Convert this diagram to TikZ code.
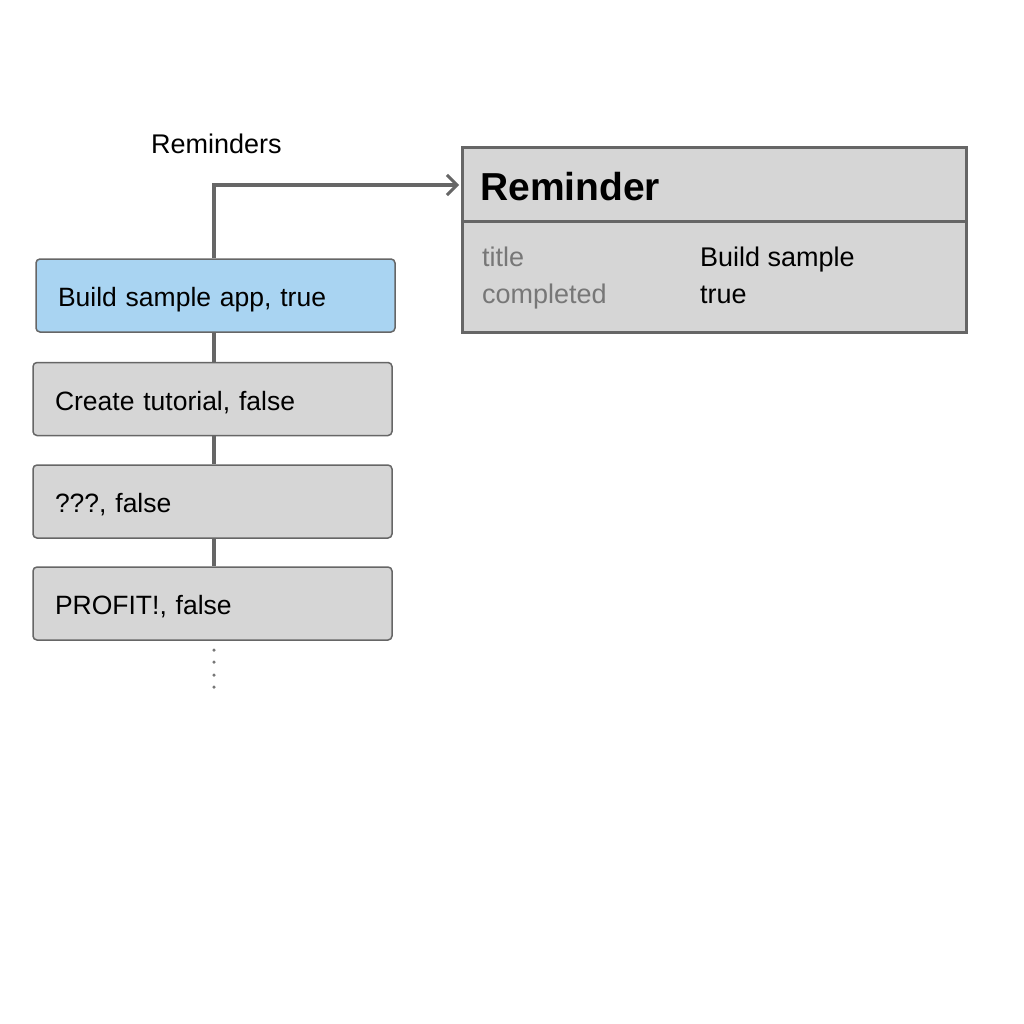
\documentclass[tikz,border=0pt]{standalone}
\usepackage{fontspec}
\setmainfont{Liberation Sans}
\usetikzlibrary{arrows.meta}
\definecolor{boxfill}{HTML}{D6D6D6}
\definecolor{boxline}{HTML}{666666}
\definecolor{bluefill}{HTML}{A9D4F2}
\definecolor{keygray}{HTML}{777777}
\tikzset{
  item/.style={draw=boxline, line width=1.5pt, fill=boxfill, rounded corners=4pt,
    minimum width=359pt, minimum height=73pt, text width=315pt, align=left,
    inner xsep=22pt, inner ysep=0pt, text height=22pt, text depth=0pt,
    font=\fontsize{26.5}{32}\selectfont},
  conn/.style={draw=boxline, line width=3.5pt},
  lbl/.style={anchor=base west, inner sep=0pt, font=\fontsize{27}{32}\selectfont},
  keytxt/.style={lbl, text=keygray},
  dot/.style={circle, fill=keygray, inner sep=0pt, minimum size=3.5pt}
}
\begin{document}
\begin{tikzpicture}[x=1pt,y=-1pt]
\useasboundingbox[fill=white] (0,0) rectangle (1024,1024);
% list boxes
\node[item, fill=bluefill] (b1) at (215.5,295.5) {Build sample app, true};
\node[item] (b2) at (212.5,399) {Create tutorial, false};
\node[item] (b3) at (212.5,501.5) {???, false};
\node[item] (b4) at (212.5,603.5) {PROFIT!, false};
% connectors between boxes
\draw[conn] (b1.south -| 214,0) -- (b2.north -| 214,0);
\draw[conn] (b2.south -| 214,0) -- (b3.north -| 214,0);
\draw[conn] (b3.south -| 214,0) -- (b4.north -| 214,0);
% dots
\node[dot] (d1) at (214,650) {};
\node[dot] (d2) at (214,662) {};
\node[dot] (d3) at (214,675) {};
\node[dot] (d4) at (214,687) {};
% Reminders label
\node[lbl] (rlabel) at (151,154) {Reminders};
% class box
\node[draw=boxline, line width=3pt, fill=boxfill, minimum width=504pt, minimum height=184pt, inner sep=0pt] (cls) at (714,240) {};
\coordinate (divl) at (462,222);
\coordinate (divr) at (966,222);
\draw[draw=boxline, line width=3pt] (divl) -- (divr);
\node[lbl, font=\fontsize{39}{44}\selectfont\bfseries] (clstitle) at (480,201) {Reminder};
\node[keytxt] (k1) at (482,266) {title};
\node[keytxt] (k2) at (482,303) {completed};
\node[lbl] (v1) at (700,266) {Build sample};
\node[lbl] (v2) at (700,303) {true};
% arrow
\coordinate (arrowend) at (459,185);
\draw[conn, -{Straight Barb[length=10pt,width=20pt,line width=3pt]}] (b1.north -| 214,0) |- (arrowend);
\end{tikzpicture}
\end{document}
